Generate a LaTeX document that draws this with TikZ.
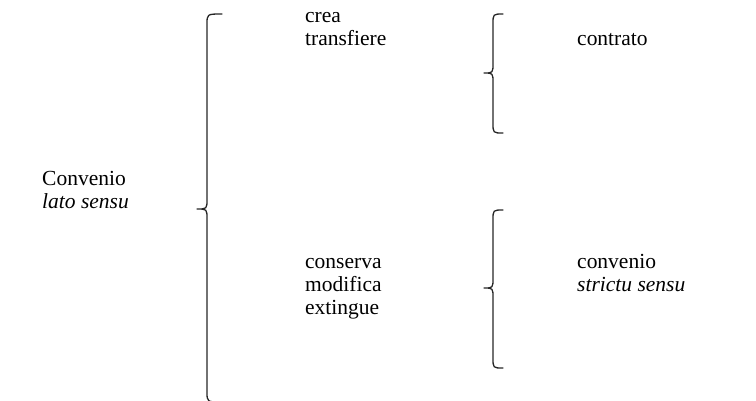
\documentclass[tikz,border=0pt]{standalone}
\usepackage{fontspec}
\setmainfont{Liberation Serif}
\tikzset{
  txt/.style={anchor=base west, inner sep=0pt, font=\fontsize{21.5}{23}\selectfont, align=left},
  bracestroke/.style={draw=black!85, line width=1.3pt, line cap=round, line join=round},
}
\newcommand{\mybrace}[6]{% xline, ytop, ytip, ybot, xtip, xend
  \draw[bracestroke] (#6,#2) .. controls (#1,#2) .. (#1,#2+10)
    -- (#1,#3-10) .. controls (#1,#3) .. (#5,#3)
    .. controls (#1,#3) .. (#1,#3+10)
    -- (#1,#4-10) .. controls (#1,#4) .. (#6,#4);}
\begin{document}
\begin{tikzpicture}[x=1pt,y=-1pt]
\useasboundingbox (0,0) rectangle (756,400);
\node[txt] (conv) at (42,208) {Convenio\\\textit{lato sensu}};
\node[txt] (crea) at (305,45) {crea\\transfiere};
\node[txt] (contrato) at (577,45) {contrato};
\node[txt] (cons) at (305,314) {conserva\\modifica\\extingue};
\node[txt] (convs) at (577,291) {convenio\\\textit{strictu sensu}};
\mybrace{207}{14}{209}{402}{197}{222}
\mybrace{493}{14}{73}{133}{484}{503}
\mybrace{493}{210}{288}{368}{484}{503}
\end{tikzpicture}
\end{document}
